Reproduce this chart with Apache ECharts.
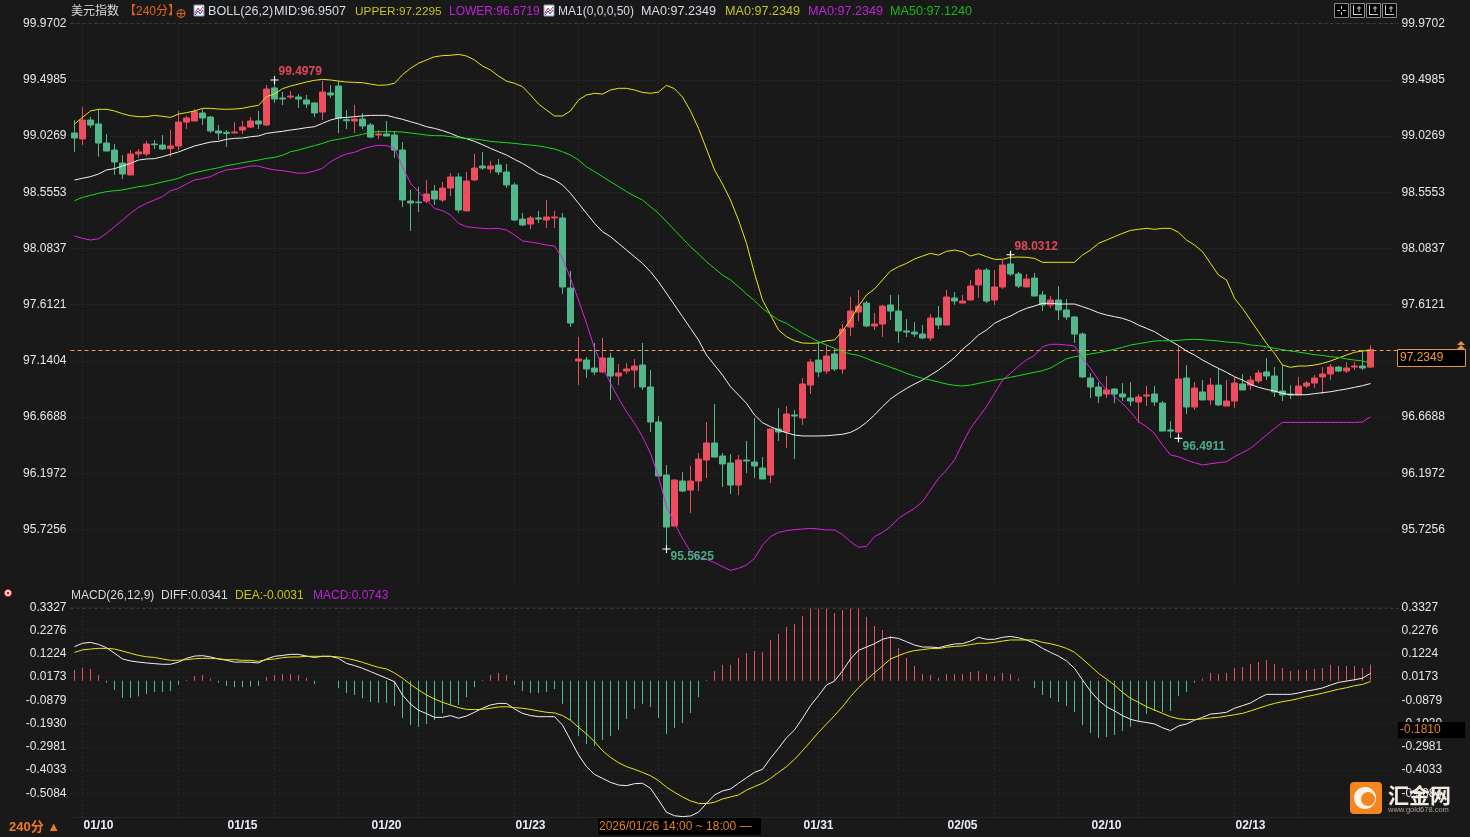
<!DOCTYPE html>
<html>
<head>
<meta charset="utf-8">
<title>美元指数 240分</title>
<script src="https://cdn.jsdelivr.net/npm/echarts@6/dist/echarts.min.js"></script>
<style>html,body{margin:0;padding:0;background:#19191a}#chart{width:1470px;height:837px}</style>
</head>
<body>
<div id="chart"></div>
<script>
// open, close, low, high per 240 minute bar
var ohlc = [
[99.053,99.011,98.896,99.162],[99.003,99.162,98.952,99.268],[99.162,99.120,99.098,99.190],[99.129,98.969,98.854,99.254],
[98.969,98.902,98.902,99.045],[98.910,98.810,98.701,98.961],[98.801,98.709,98.667,98.868],[98.701,98.877,98.701,98.910],
[98.877,98.894,98.843,98.919],[98.877,98.961,98.860,98.986],[98.961,98.955,98.919,98.994],[98.952,98.919,98.910,99.036],
[98.922,98.944,98.852,99.078],[98.944,99.145,98.910,99.238],[99.145,99.179,99.087,99.196],[99.154,99.232,99.154,99.254],
[99.221,99.179,99.120,99.254],[99.187,99.070,99.053,99.196],[99.070,99.053,98.994,99.120],[99.059,99.050,98.936,99.078],
[99.053,99.061,99.053,99.145],[99.078,99.103,99.045,99.154],[99.103,99.154,99.095,99.187],[99.154,99.129,99.087,99.238],
[99.120,99.422,99.112,99.456],[99.431,99.338,99.305,99.4979],[99.347,99.338,99.288,99.397],[99.355,99.363,99.338,99.405],
[99.355,99.338,99.263,99.380],[99.330,99.296,99.263,99.372],[99.305,99.221,99.187,99.313],[99.229,99.397,99.162,99.489],
[99.389,99.372,99.347,99.456],[99.447,99.179,99.053,99.490],[99.165,99.156,99.087,99.246],[99.154,99.170,99.053,99.288],
[99.170,99.112,99.087,99.221],[99.120,99.019,99.011,99.137],[99.036,99.045,99.003,99.078],[99.045,99.028,99.028,99.154],
[99.036,98.910,98.843,99.070],[98.910,98.491,98.432,98.977],[98.482,98.466,98.231,98.575],[98.474,98.468,98.390,98.600],
[98.482,98.541,98.466,98.659],[98.566,98.499,98.449,98.617],[98.491,98.591,98.474,98.642],[98.591,98.684,98.524,98.717],
[98.684,98.407,98.382,98.717],[98.399,98.650,98.399,98.726],[98.659,98.759,98.650,98.877],[98.776,98.759,98.743,98.894],
[98.751,98.776,98.717,98.818],[98.784,98.726,98.701,98.835],[98.726,98.617,98.591,98.793],[98.617,98.323,98.315,98.633],
[98.331,98.281,98.273,98.382],[98.289,98.340,98.247,98.357],[98.340,98.331,98.298,98.399],[98.323,98.348,98.256,98.491],
[98.340,98.348,98.256,98.399],[98.340,97.761,97.702,98.382],[97.752,97.459,97.425,97.895],[97.140,97.157,96.938,97.341],
[97.148,97.073,96.997,97.173],[97.081,97.048,97.022,97.291],[97.048,97.165,97.039,97.333],[97.165,97.014,96.813,97.207],
[97.014,97.039,96.938,97.115],[97.056,97.073,97.031,97.123],[97.064,97.098,96.913,97.157],[97.106,96.922,96.897,97.291],
[96.922,96.628,96.544,97.064],[96.628,96.175,96.175,96.678],[96.183,95.747,95.5625,96.267],[95.755,96.141,95.755,96.150],
[96.133,96.049,96.041,96.208],[96.057,96.133,95.864,96.259],[96.133,96.317,96.049,96.368],[96.309,96.452,96.158,96.628],
[96.452,96.334,96.334,96.779],[96.343,96.276,96.083,96.368],[96.284,96.099,96.024,96.359],[96.099,96.309,96.015,96.351],
[96.309,96.301,96.200,96.469],[96.292,96.259,96.158,96.662],[96.242,96.150,96.150,96.334],[96.183,96.569,96.116,96.569],
[96.569,96.544,96.469,96.745],[96.544,96.695,96.410,96.762],[96.687,96.678,96.317,96.729],[96.662,96.947,96.603,96.997],
[96.938,97.131,96.863,97.157],[97.148,97.048,97.006,97.299],[97.056,97.182,97.031,97.274],[97.199,97.073,97.056,97.241],
[97.073,97.408,97.031,97.450],[97.425,97.559,97.350,97.677],[97.551,97.601,97.475,97.736],[97.626,97.434,97.425,97.643],
[97.434,97.450,97.400,97.543],[97.450,97.601,97.341,97.610],[97.610,97.559,97.484,97.694],[97.559,97.392,97.291,97.694],
[97.392,97.383,97.341,97.492],[97.383,97.366,97.341,97.467],[97.366,97.333,97.324,97.442],[97.333,97.501,97.308,97.534],
[97.501,97.442,97.408,97.601],[97.442,97.677,97.442,97.736],[97.669,97.643,97.610,97.719],[97.626,97.643,97.626,97.694],
[97.652,97.769,97.652,97.820],[97.778,97.903,97.669,97.920],[97.903,97.643,97.626,97.920],[97.652,97.761,97.610,97.903],
[97.761,97.945,97.744,97.987],[97.954,97.870,97.853,98.0312],[97.870,97.769,97.752,97.887],[97.761,97.828,97.761,97.870],
[97.836,97.685,97.685,97.878],[97.694,97.610,97.559,97.727],[97.610,97.652,97.585,97.685],[97.652,97.568,97.484,97.769],
[97.568,97.509,97.484,97.660],[97.509,97.366,97.291,97.517],[97.366,97.006,96.997,97.380],[96.997,96.922,96.829,97.039],
[96.922,96.846,96.787,96.964],[96.863,96.897,96.829,97.014],[96.905,96.863,96.787,96.913],[96.863,96.838,96.804,96.955],
[96.829,96.804,96.762,96.964],[96.796,96.838,96.620,96.863],[96.846,96.855,96.762,96.930],[96.863,96.796,96.762,96.930],
[96.787,96.552,96.552,96.804],[96.561,96.552,96.494,96.636],[96.544,96.989,96.4911,97.266],[96.997,96.754,96.695,97.106],
[96.754,96.913,96.729,96.964],[96.880,96.813,96.813,96.980],[96.813,96.938,96.771,96.997],[96.938,96.771,96.762,97.081],
[96.762,96.804,96.762,96.980],[96.804,96.955,96.745,97.006],[96.947,96.897,96.897,97.031],[96.938,96.980,96.897,97.014],
[96.972,97.039,96.955,97.064],[97.048,97.014,96.980,97.165],[97.014,96.880,96.838,97.089],[96.888,96.855,96.804,97.106],
[96.863,96.855,96.821,96.938],[96.855,96.930,96.855,97.006],[96.930,96.955,96.913,96.972],[96.955,96.997,96.913,97.022],
[97.006,97.031,96.863,97.089],[97.031,97.089,96.980,97.115],[97.089,97.056,97.048,97.098],[97.056,97.081,97.039,97.131],
[97.089,97.098,97.064,97.131],[97.098,97.081,97.064,97.224],[97.089,97.2349,97.081,97.274]
];
var bollUpper = [
99.129,99.184,99.238,99.252,99.252,99.238,99.215,99.198,99.190,99.190,99.201,99.193,99.184,99.212,99.224,99.238,99.260,99.260,99.254,99.252,
99.254,99.260,99.274,99.285,99.358,99.380,99.425,99.447,99.464,99.481,99.495,99.503,99.498,99.489,99.481,99.478,99.475,99.464,99.453,99.456,
99.470,99.542,99.596,99.638,99.666,99.693,99.702,99.705,99.713,99.699,99.666,99.615,99.582,99.531,99.489,99.470,99.442,99.372,99.296,99.246,
99.196,99.196,99.238,99.330,99.372,99.386,99.380,99.414,99.428,99.428,99.414,99.394,99.386,99.397,99.453,99.425,99.355,99.238,99.092,98.919,
98.743,98.625,98.491,98.323,98.127,97.875,97.652,97.526,97.400,97.344,97.310,97.291,97.288,97.291,97.310,97.316,97.392,97.484,97.601,97.694,
97.744,97.820,97.895,97.931,97.959,97.996,98.021,98.043,98.029,98.060,98.071,98.057,98.021,98.040,98.015,97.993,97.993,98.010,98.012,98.010,
98.001,97.968,97.968,97.968,97.968,97.968,98.029,98.071,98.127,98.155,98.183,98.211,98.236,98.245,98.253,98.245,98.253,98.253,98.220,98.155,
98.113,98.057,97.959,97.861,97.820,97.666,97.582,97.484,97.386,97.288,97.204,97.106,97.087,97.098,97.098,97.106,97.120,97.140,97.165,97.190,
97.213,97.224,97.2295
];
var bollMid = [
98.659,98.673,98.687,98.709,98.743,98.754,98.776,98.798,98.826,98.835,98.838,98.854,98.874,98.894,98.919,98.944,98.961,98.977,98.983,99.000,
99.008,99.011,99.022,99.028,99.050,99.059,99.067,99.078,99.087,99.098,99.106,99.134,99.162,99.179,99.184,99.190,99.196,99.201,99.201,99.201,
99.184,99.168,99.148,99.129,99.106,99.092,99.073,99.050,99.022,99.005,98.983,98.955,98.924,98.896,98.868,98.832,98.798,98.757,98.712,98.687,
98.659,98.617,98.547,98.463,98.379,98.295,98.225,98.183,98.127,98.071,98.015,97.959,97.889,97.805,97.708,97.610,97.512,97.414,97.316,97.190,
97.106,97.022,96.924,96.855,96.785,96.687,96.622,96.589,96.561,96.538,96.519,96.511,96.511,96.511,96.513,96.519,96.525,96.541,96.575,96.625,
96.687,96.757,96.821,96.868,96.910,96.947,96.980,97.022,97.064,97.115,97.168,97.238,97.294,97.358,97.400,97.456,97.490,97.517,97.554,97.582,
97.601,97.624,97.624,97.618,97.618,97.618,97.596,97.573,97.545,97.526,97.512,97.498,97.475,97.442,97.414,97.386,97.344,97.308,97.269,97.224,
97.190,97.148,97.112,97.078,97.045,97.008,96.980,96.944,96.919,96.902,96.888,96.868,96.857,96.857,96.857,96.866,96.874,96.882,96.894,96.905,
96.919,96.933,96.9507
];
var bollLower = [
98.189,98.169,98.155,98.166,98.211,98.267,98.323,98.379,98.429,98.463,98.491,98.519,98.569,98.589,98.625,98.659,98.670,98.687,98.720,98.743,
98.751,98.762,98.776,98.776,98.757,98.743,98.737,98.726,98.715,98.717,98.734,98.757,98.812,98.849,98.877,98.891,98.919,98.938,98.950,98.947,
98.924,98.770,98.631,98.561,98.491,98.421,98.401,98.365,98.295,98.267,98.259,98.253,98.250,98.253,98.239,98.197,98.147,98.138,98.127,98.113,
98.105,98.001,97.833,97.652,97.456,97.246,97.092,96.952,96.827,96.715,96.617,96.505,96.365,96.169,95.918,95.778,95.652,95.540,95.492,95.476,
95.448,95.414,95.383,95.400,95.428,95.484,95.596,95.666,95.702,95.716,95.725,95.730,95.736,95.730,95.722,95.722,95.685,95.624,95.576,95.585,
95.666,95.702,95.750,95.820,95.862,95.904,95.960,96.057,96.155,96.225,96.309,96.449,96.575,96.667,96.757,96.868,96.980,97.036,97.098,97.148,
97.187,97.260,97.280,97.280,97.274,97.266,97.162,97.078,96.980,96.897,96.840,96.785,96.715,96.631,96.589,96.533,96.435,96.351,96.337,96.309,
96.287,96.267,96.278,96.287,96.295,96.337,96.371,96.407,96.463,96.519,96.575,96.625,96.625,96.625,96.625,96.625,96.625,96.625,96.625,96.625,
96.625,96.628,96.6719
];
var ma50 = [
98.485,98.513,98.530,98.547,98.561,98.569,98.575,98.589,98.603,98.611,98.625,98.642,98.656,98.673,98.701,98.720,98.734,98.748,98.762,98.779,
98.790,98.804,98.815,98.826,98.840,98.849,98.866,98.896,98.910,98.930,98.947,98.966,98.989,99.000,99.014,99.028,99.042,99.059,99.064,99.064,
99.064,99.061,99.053,99.045,99.036,99.031,99.031,99.022,99.014,99.008,99.003,98.994,98.983,98.977,98.972,98.966,98.958,98.952,98.944,98.933,
98.919,98.896,98.868,98.826,98.770,98.729,98.687,98.645,98.603,98.561,98.524,98.491,98.435,98.379,98.309,98.239,98.169,98.099,98.038,97.973,
97.917,97.861,97.820,97.764,97.702,97.646,97.582,97.531,97.484,97.456,97.414,97.372,97.338,97.302,97.274,97.246,97.218,97.199,97.187,97.162,
97.134,97.112,97.087,97.064,97.036,97.014,96.994,96.980,96.964,96.947,96.936,96.930,96.938,96.952,96.966,96.980,96.989,97.003,97.017,97.031,
97.045,97.059,97.081,97.120,97.159,97.176,97.187,97.199,97.210,97.224,97.238,97.255,97.274,97.285,97.296,97.308,97.310,97.310,97.313,97.319,
97.322,97.319,97.313,97.308,97.299,97.296,97.288,97.274,97.269,97.260,97.246,97.235,97.224,97.215,97.204,97.193,97.187,97.176,97.171,97.157,
97.148,97.140,97.124
];
var macdHist = [
0.049,0.060,0.054,0.027,-0.008,-0.041,-0.076,-0.076,-0.071,-0.059,-0.050,-0.050,-0.046,-0.019,0.004,0.022,0.027,0.009,-0.008,-0.023,
-0.028,-0.028,-0.025,-0.023,0.018,0.027,0.031,0.031,0.027,0.013,-0.014,0.002,0.002,-0.032,-0.055,-0.064,-0.079,-0.096,-0.100,-0.100,
-0.112,-0.168,-0.200,-0.209,-0.195,-0.177,-0.145,-0.109,-0.109,-0.073,-0.028,0.004,0.027,0.036,0.027,-0.019,-0.046,-0.055,-0.055,-0.050,
-0.037,-0.105,-0.177,-0.249,-0.285,-0.295,-0.267,-0.249,-0.222,-0.172,-0.127,-0.105,-0.118,-0.168,-0.240,-0.213,-0.191,-0.145,-0.073,0.004,
0.045,0.072,0.072,0.103,0.126,0.135,0.131,0.185,0.212,0.244,0.257,0.293,0.325,0.325,0.325,0.307,0.321,0.325,0.325,0.289,
0.248,0.230,0.203,0.149,0.103,0.067,0.031,0.027,0.013,0.031,0.031,0.031,0.040,0.045,0.031,0.022,0.036,0.031,0.009,0.002,
-0.032,-0.064,-0.077,-0.096,-0.114,-0.141,-0.200,-0.236,-0.258,-0.254,-0.245,-0.227,-0.209,-0.181,-0.150,-0.136,-0.141,-0.136,-0.068,-0.050,
-0.008,0.009,0.036,0.031,0.036,0.058,0.063,0.076,0.085,0.094,0.076,0.058,0.045,0.049,0.049,0.054,0.058,0.072,0.067,0.067,
0.067,0.058,0.0743
];
var macdDiff = [
0.155,0.170,0.174,0.165,0.150,0.125,0.099,0.090,0.085,0.081,0.078,0.075,0.075,0.085,0.102,0.112,0.114,0.108,0.099,0.093,
0.085,0.085,0.084,0.081,0.099,0.111,0.115,0.120,0.120,0.112,0.106,0.111,0.111,0.102,0.079,0.069,0.057,0.042,0.027,0.012,
-0.004,-0.064,-0.105,-0.133,-0.148,-0.165,-0.165,-0.157,-0.169,-0.159,-0.142,-0.124,-0.109,-0.102,-0.102,-0.127,-0.147,-0.157,-0.162,-0.162,
-0.162,-0.200,-0.267,-0.335,-0.388,-0.423,-0.441,-0.459,-0.471,-0.474,-0.465,-0.463,-0.486,-0.539,-0.594,-0.610,-0.614,-0.611,-0.594,-0.554,
-0.516,-0.498,-0.489,-0.463,-0.438,-0.414,-0.400,-0.350,-0.305,-0.257,-0.222,-0.169,-0.112,-0.067,-0.019,-0.001,0.045,0.099,0.138,0.153,
0.168,0.188,0.197,0.192,0.177,0.162,0.153,0.153,0.150,0.159,0.167,0.168,0.180,0.197,0.188,0.188,0.197,0.201,0.195,0.185,
0.170,0.147,0.129,0.112,0.090,0.057,0.004,-0.046,-0.087,-0.117,-0.136,-0.157,-0.174,-0.183,-0.188,-0.195,-0.212,-0.225,-0.204,-0.195,
-0.178,-0.165,-0.150,-0.147,-0.142,-0.124,-0.112,-0.100,-0.079,-0.061,-0.061,-0.061,-0.061,-0.055,-0.046,-0.040,-0.032,-0.019,-0.007,-0.001,
0.005,0.012,0.0341
];
var macdDea = [
0.129,0.140,0.144,0.147,0.147,0.144,0.135,0.125,0.115,0.109,0.106,0.099,0.093,0.093,0.096,0.100,0.102,0.102,0.100,0.096,
0.096,0.093,0.093,0.088,0.096,0.099,0.105,0.108,0.108,0.111,0.111,0.111,0.111,0.108,0.102,0.094,0.084,0.072,0.061,0.054,
0.036,0.012,-0.016,-0.041,-0.064,-0.082,-0.097,-0.109,-0.121,-0.129,-0.130,-0.129,-0.124,-0.118,-0.117,-0.121,-0.124,-0.129,-0.136,-0.142,
-0.145,-0.157,-0.178,-0.210,-0.240,-0.275,-0.316,-0.346,-0.370,-0.388,-0.400,-0.414,-0.429,-0.451,-0.481,-0.504,-0.525,-0.543,-0.554,-0.555,
-0.549,-0.534,-0.525,-0.516,-0.494,-0.478,-0.463,-0.441,-0.414,-0.388,-0.355,-0.316,-0.275,-0.233,-0.195,-0.157,-0.117,-0.071,-0.031,0.004,
0.037,0.067,0.099,0.114,0.128,0.137,0.141,0.146,0.146,0.152,0.156,0.158,0.164,0.170,0.170,0.174,0.180,0.185,0.185,0.185,
0.185,0.174,0.168,0.159,0.147,0.129,0.099,0.067,0.034,0.008,-0.019,-0.052,-0.079,-0.097,-0.117,-0.132,-0.147,-0.162,-0.171,-0.175,
-0.175,-0.172,-0.168,-0.165,-0.159,-0.153,-0.147,-0.136,-0.124,-0.112,-0.102,-0.094,-0.088,-0.080,-0.071,-0.064,-0.056,-0.047,-0.038,-0.031,
-0.022,-0.016,-0.0031
];
var priceTicks = [99.9702,99.4985,99.0269,98.5553,98.0837,97.6121,97.1404,96.6688,96.1972,95.7256];
var macdTicks = [0.3327,0.2276,0.1224,0.0173,-0.0879,-0.1930,-0.2981,-0.4033,-0.5084];
var dateTicks = {3:'01/10',21:'01/15',39:'01/20',57:'01/23',93:'01/31',111:'02/05',129:'02/10',147:'02/13'};
var gridBars = [1,13,25,33,43,55,63,73,85,93,103,115,123,133,145,153];
var lastPrice = 97.2349;
// bar index, value, up or down colour side
var extremes = [[25,99.4979,'up'],[74,95.5625,'down'],[117,98.0312,'up'],[138,96.4911,'down']];

var RED = '#ee4d5f', GREEN = '#52b88c', GRID = '#343434', LABEL = '#e4e8ec';
var FONT = '"Liberation Sans", Arial, sans-serif';
var CJK = '"Liberation Sans", "Noto Sans CJK SC", sans-serif';
var categories = [];
for (var i = 0; i < 166; i++) categories.push(dateTicks[i] || '');

var myChart = echarts.init(document.getElementById('chart'));

function yAxisOf(gridIndex, position, ticks, min, max, withLines) {
	return {
		type: 'value', gridIndex: gridIndex, position: position, min: min, max: max, scale: true,
		axisLine: {show: false},
		axisTick: {show: false, customValues: ticks},
		axisLabel: {
			customValues: ticks, color: LABEL, fontFamily: FONT, fontSize: 12, margin: position == 'left' ? 4 : 3,
			padding: gridIndex == 0 ? [0, 0, 2, 0] : 0,
			formatter: function (v) { return v.toFixed(4); }
		},
		splitLine: {show: withLines, lineStyle: {color: GRID, type: [1, 3], width: 1}}
	};
}
function xAxisOf(gridIndex, showLabel) {
	return {
		type: 'category', gridIndex: gridIndex, data: categories,
		axisLine: {show: showLabel, onZero: false, lineStyle: {color: '#262626'}},
		axisTick: {show: false},
		axisLabel: {show: showLabel, interval: 0, color: '#e8eef5', fontFamily: FONT, fontSize: 12, fontWeight: 'bold', margin: 3, align: 'center'},
		splitLine: {show: false}
	};
}
function lineOf(name, data, color, xi, yi) {
	return {
		name: name, type: 'line', data: data, xAxisIndex: xi, yAxisIndex: yi, symbol: 'none', z: 4,
		lineStyle: {color: color, width: 1}, silent: true
	};
}
function verticals() {
	return gridBars.map(function (b) {
		return {xAxis: b, lineStyle: {color: GRID, type: [1, 3], width: 1}};
	});
}

var CROSS = 'path://M0 3h7v1H0z M3 0h1v7H3z';
var marks = [];
extremes.forEach(function (e) {
	var up = e[2] == 'up';
	marks.push({
		coord: [e[0], e[1]], symbol: CROSS, symbolSize: 8,
		itemStyle: {color: '#ffffff'},
		label: {
			show: true, formatter: e[1].toFixed(4), position: 'right', distance: 0, offset: [0, up ? -8 : 8],
			color: up ? '#e0475a' : '#48ad83', fontFamily: FONT, fontSize: 12, fontWeight: 'bold'
		}
	});
});

// header texts, price tags and watermark drawn on top
function txt(x, y, s, color, font) {
	return {type: 'text', silent: true, z: 20, style: {x: x, y: y, text: s, fill: color, font: font || ('12px ' + CJK), textVerticalAlign: 'middle'}};
}
function rect(x, y, w, h, fill, stroke, r) {
	return {type: 'rect', silent: true, z: 19, shape: {x: x, y: y, width: w, height: h, r: r || 0}, style: {fill: fill || 'none', stroke: stroke || 'none', lineWidth: 1}};
}
function seg(x1, y1, x2, y2, color) {
	return {type: 'line', silent: true, z: 20, shape: {x1: x1, y1: y1, x2: x2, y2: y2}, style: {stroke: color, lineWidth: 1}};
}
function chartIcon(x, y) {
	return [rect(x, y, 10, 11, '#ffffff', '#8090c0'),
		{type: 'polyline', silent: true, z: 20, shape: {points: [[x + 1, y + 8], [x + 4, y + 3], [x + 6, y + 6], [x + 9, y + 2]]}, style: {stroke: '#e02020', fill: 'none'}},
		{type: 'polyline', silent: true, z: 20, shape: {points: [[x + 1, y + 10], [x + 4, y + 6], [x + 6, y + 9], [x + 9, y + 5]]}, style: {stroke: '#2040d0', fill: 'none'}}];
}
var LIGHT = '#d4dce4', OLIVE = '#c4c418', MAG = '#c020d8', ORANGE = '#f07a1a';
var WIDE = '12.6px ' + FONT;
var overlay = [
	txt(71, 11.5, '美元指数', '#d8d8d8'),
	txt(124, 11.5, '【240分】', '#e8641b'),
	{type: 'circle', silent: true, z: 20, shape: {cx: 181, cy: 13.5, r: 4}, style: {fill: 'none', stroke: '#d8641b'}},
	seg(177, 13.5, 185, 13.5, '#d8641b'), seg(181, 9.5, 181, 17.5, '#d8641b'),
	txt(208, 11.5, 'BOLL(26,2)', LIGHT, WIDE),
	txt(274, 11.5, 'MID:96.9507', LIGHT, WIDE),
	txt(355, 11.5, 'UPPER:97.2295', OLIVE, '11.8px ' + FONT),
	txt(449, 11.5, 'LOWER:96.6719', MAG),
	txt(558, 11.5, 'MA1(0,0,0,50)', LIGHT),
	txt(641, 11.5, 'MA0:97.2349', LIGHT, WIDE),
	txt(725, 11.5, 'MA0:97.2349', OLIVE, WIDE),
	txt(808, 11.5, 'MA0:97.2349', MAG, WIDE),
	txt(890, 11.5, 'MA50:97.1240', '#18b818', WIDE),
	txt(71, 595.5, 'MACD(26,12,9)', LIGHT),
	txt(161, 595.5, 'DIFF:0.0341', LIGHT),
	txt(235, 595.5, 'DEA:-0.0031', OLIVE),
	txt(313, 595.5, 'MACD:0.0743', MAG),
	{type: 'circle', silent: true, z: 20, shape: {cx: 8, cy: 593, r: 3.5}, style: {fill: '#ffffff', stroke: '#d02020'}},
	{type: 'circle', silent: true, z: 21, shape: {cx: 8, cy: 593, r: 1.5}, style: {fill: '#e01010'}},
	txt(9, 827.5, '240分 ▲', ORANGE, 'bold 13px ' + CJK),
	rect(598, 818, 163, 17, '#000000'),
	txt(599, 827, '2026/01/26 14:00 ~ 18:00 —', '#e8831b'),
	rect(1397.5, 349.5, 68, 17, '#000000', '#e8943a'),
	txt(1400, 358, '97.2349', '#f09a30'),
	{type: 'polygon', silent: true, z: 20, shape: {points: [[1461, 341], [1465, 345], [1457, 345]]}, style: {fill: '#e8943a'}},
	{type: 'polygon', silent: true, z: 20, shape: {points: [[1461, 345], [1465, 349], [1457, 349]]}, style: {fill: '#e8943a'}},
	rect(1398, 722, 67, 16, '#000000'),
	txt(1400, 730, '-0.1810', '#e8831b'),
	rect(1350, 782, 32, 32, '#f5851f', null, 4),
	{type: 'circle', silent: true, z: 20, shape: {cx: 1365, cy: 798, r: 11}, style: {fill: '#fff4e8'}},
	{type: 'circle', silent: true, z: 21, shape: {cx: 1368, cy: 799, r: 7}, style: {fill: '#f5851f'}},
	txt(1388, 795, '汇金网', '#f2ebe2', 'bold 21px "Noto Sans CJK SC"'),
	txt(1388, 810, 'www.gold678.com', '#a8a098', '7.5px ' + FONT)
].concat(chartIcon(194, 5), chartIcon(544, 5));
// four toolbar buttons top right
[1334, 1350, 1366, 1382].forEach(function (x, n) {
	overlay.push(rect(x + 0.5, 3.5, 14, 14, '#000000', '#8a8a8a'));
	if (n == 0) {
		overlay.push(seg(x + 3, 10.5, x + 6, 10.5, '#c8c8c8'), seg(x + 9, 10.5, x + 12, 10.5, '#c8c8c8'), seg(x + 7.5, 6, x + 7.5, 9, '#c8c8c8'), seg(x + 7.5, 12, x + 7.5, 15, '#c8c8c8'));
	} else {
		overlay.push(seg(x + 3.5, 5, x + 3.5, 15, '#c8c8c8'), seg(x + 3, 14.5, x + 12, 14.5, '#c8c8c8'), seg(x + 7, 8, x + 11, 8, '#c8c8c8'), seg(x + 9, 6, x + 9, 12, '#c8c8c8'));
	}
});

var option = {
	animation: false,
	backgroundColor: '#19191a',
	tooltip: {show: false},
	grid: [
		{left: 70.5, top: 23.7, width: 1328, height: 559.3},
		{left: 70.5, top: 607.3, width: 1328, height: 209.7}
	],
	xAxis: [xAxisOf(0, false), xAxisOf(1, true)],
	yAxis: [
		yAxisOf(0, 'left', priceTicks, 95.2772, 99.9702, true),
		yAxisOf(0, 'right', priceTicks, 95.2772, 99.9702, false),
		yAxisOf(1, 'left', macdTicks, -0.6157, 0.3327, true),
		yAxisOf(1, 'right', macdTicks, -0.6157, 0.3327, false)
	],
	series: [
		{
			name: '美元指数', type: 'candlestick', data: ohlc, xAxisIndex: 0, yAxisIndex: 0, barWidth: 7, z: 2, silent: true,
			itemStyle: {color: RED, color0: GREEN, borderColor: RED, borderColor0: GREEN, borderWidth: 1},
			markLine: {
				silent: true, symbol: 'none', animation: false, z: 1, label: {show: false},
				data: verticals().concat([
					{yAxis: 99.9702, lineStyle: {color: '#3c3c3c', type: [3, 3], width: 1}}
				])
			},
			markPoint: {silent: true, animation: false, z: 6, data: marks}
		},
		Object.assign(lineOf('UPPER', bollUpper, '#e8e810', 0, 0), {
			markLine: {
				silent: true, symbol: 'none', animation: false, z: 3, label: {show: false},
				data: [{yAxis: lastPrice, lineStyle: {color: '#e8a050', type: [4, 3], width: 1}}]
			}
		}),
		lineOf('MID', bollMid, '#f2f2f2', 0, 0),
		lineOf('LOWER', bollLower, '#e020e0', 0, 0),
		lineOf('MA50', ma50, '#18dc18', 0, 0),
		{
			name: 'MACD', type: 'bar', data: macdHist, xAxisIndex: 1, yAxisIndex: 2, barWidth: 1, z: 2, silent: true,
			itemStyle: {color: function (p) { return p.value >= 0 ? '#f04a5c' : '#45c08c'; }},
			markLine: {
				silent: true, symbol: 'none', animation: false, z: 1, label: {show: false},
				data: verticals().concat([
					{yAxis: 0.3327, lineStyle: {color: '#3c3c3c', type: [3, 3], width: 1}}
				])
			}
		},
		lineOf('DIFF', macdDiff, '#f2f2f2', 1, 2),
		lineOf('DEA', macdDea, '#e8e810', 1, 2)
	],
	graphic: {elements: overlay}
};
myChart.setOption(option);
</script>
</body>
</html>
